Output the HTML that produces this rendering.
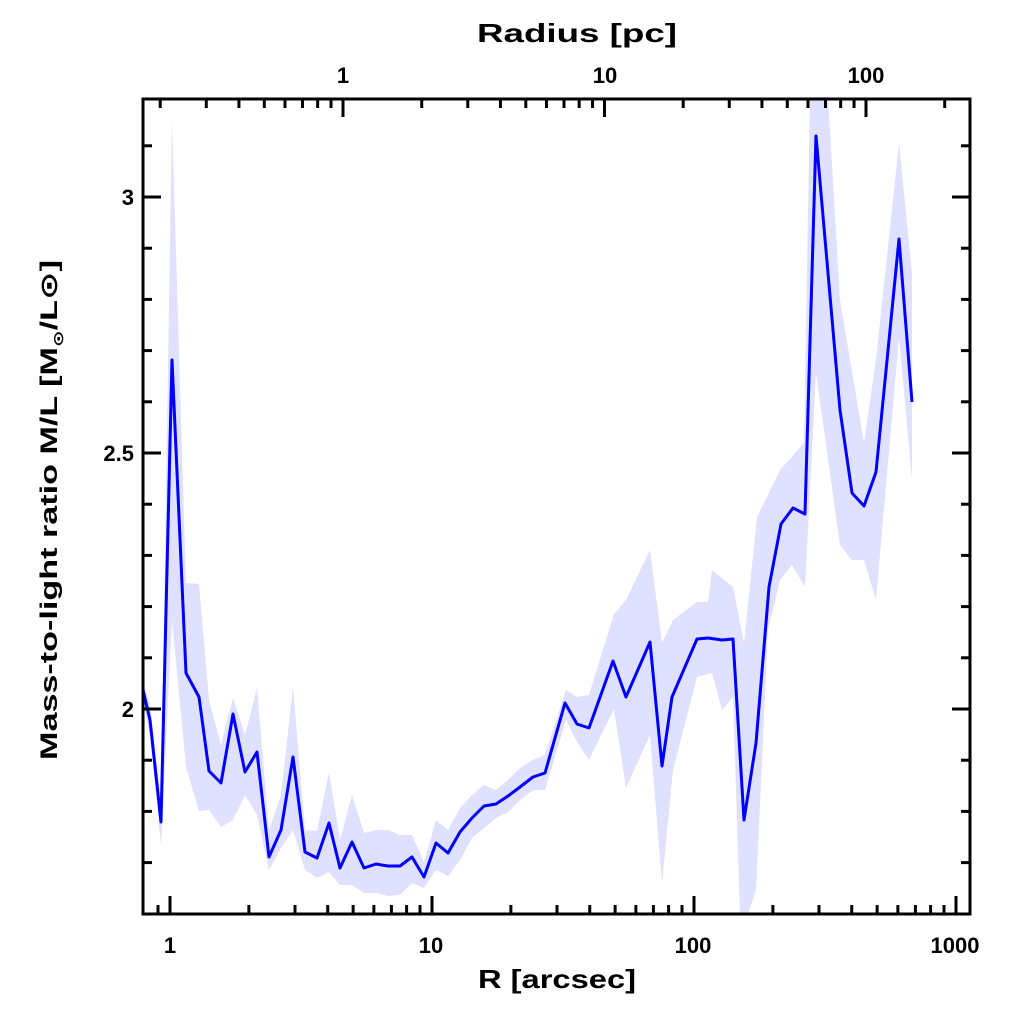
<!DOCTYPE html>
<html><head><meta charset="utf-8"><style>
html,body{margin:0;padding:0;background:#fff;}
svg{display:block;}
text{font-family:"Liberation Sans","DejaVu Sans",sans-serif;font-weight:bold;fill:#000;}
</style></head><body>
<svg id="s" width="1024" height="1024" viewBox="0 0 1024 1024" xmlns="http://www.w3.org/2000/svg">
<polygon fill="#e0e0ff" points="143,680 150,705 161,800 172,120 186,583 199,584 209,700 221,745 233,698 245,735 257,688 269,830 281,795 293,687 305,830 317,831 329,772 340,840 352,795 364,833 376,830 388,830 400,835 412,835 424,862 436,820 448,830 460,808 472,795 484,785 496,790 508,780 520,768 533,760 545,755 566,690 577,697 589,695 614,614 626,600 650,550 662,643 673,620 697,602 708,602 712,570 733,587 744,643 757,517 780,470 804,443 810,97 828,97 840,300 864,443 876,360 899,143 912,273 912,480 899,337 876,600 864,560 852,560 840,545 816,373 805,587 792,565 780,580 768,630 756,890 748,914 740,914 733,697 722,710 712,673 697,677 673,770 662,883 650,735 626,788 614,709 589,760 577,742 566,720 545,790 533,790 520,800 508,812 496,818 484,828 472,838 460,860 448,876 436,870 424,888 412,883 400,895 388,896 376,893 364,893 352,885 340,885 329,872 317,878 305,870 293,830 281,848 269,870 257,815 245,795 233,820 221,827 209,810 199,811 186,767 172,620 161,845 150,735 143,700"/>
<polyline fill="none" stroke="#0000ff" stroke-width="3" stroke-linejoin="round" points="143,690 150,720 161,822 172,360 186,673 199,697 209,771 221,783 233,714 245,772 257,752 269,857 281,830 293,757 305,852 317,858 329,823 340,868 352,842 364,868 376,864 388,866 400,866 412,857 424,877 436,843 448,853 460,832 472,818 484,806 496,804 508,796 520,787 533,777 545,773 565,703 577,724 589,728 613,661 626,697 650,642 662,766 672,697 697,639 708,638 722,640 733,639 744,820 756,743 769,587 781,524 793,508 805,514 816,136 840,410 852,493 864,506 876,472 899,239 912,402"/>
<rect x="143" y="99" width="827" height="815" fill="none" stroke="#000" stroke-width="3"/>
<g id="ticks" stroke="#000" stroke-width="3"></g>
<g font-size="22" text-anchor="end">
<text x="134" y="205">3</text><text x="134" y="461">2.5</text><text x="134" y="717">2</text>
</g>
<g font-size="22" text-anchor="middle">
<text x="170" y="953">1</text><text x="431" y="953">10</text><text x="693" y="953">100</text><text x="955" y="953">1000</text>
<text x="343" y="83">1</text><text x="605" y="83">10</text><text x="866" y="83">100</text>
<text x="557" y="988" font-size="26" textLength="158" lengthAdjust="spacingAndGlyphs">R [arcsec]</text>
<text x="577" y="42" font-size="26" textLength="200" lengthAdjust="spacingAndGlyphs">Radius [pc]</text>
</g>
<text font-size="24" text-anchor="middle" transform="translate(57,510) rotate(-90)" textLength="500" lengthAdjust="spacingAndGlyphs">Mass-to-light ratio M/L [M<tspan font-size="14" dy="6">⊙</tspan><tspan dy="-6">/L⊙]</tspan></text>
</svg>
<script>
var g=document.getElementById('ticks'),h='';
function L(x1,y1,x2,y2){h+='<line x1="'+x1+'" y1="'+y1+'" x2="'+x2+'" y2="'+y2+'"/>';}
for(var v=1.7;v<=3.15;v+=0.1){var y=709-(v-2)*512;var r=Math.round(v*10)%5==0;var l=r?18:9;L(143,y,143+l,y);L(970,y,970-l,y);}
for(var d=-1;d<=3;d++){for(var m=1;m<10;m++){var x=170+262*(d+Math.log10(m));if(x<145||x>968)continue;var l=m==1?18:9;L(x,914,x,914-l);}}
for(var d=-1;d<=2;d++){for(var m=1;m<10;m++){var x=343+261.5*(d+Math.log10(m));if(x<145||x>968)continue;var l=m==1?18:9;L(x,99,x,99+l);}}
g.innerHTML=h;
</script>
</body></html>
